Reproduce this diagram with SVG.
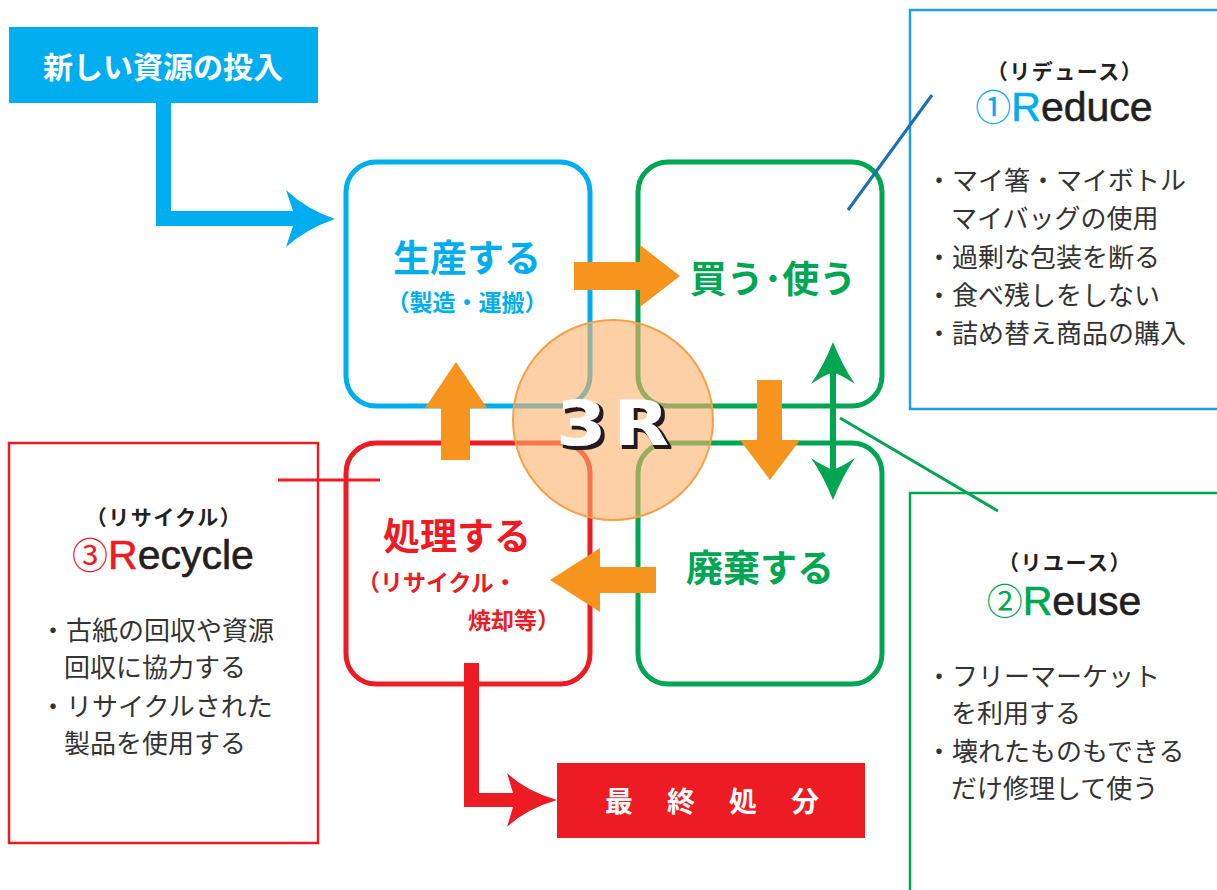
<svg xmlns="http://www.w3.org/2000/svg" width="1217" height="890" viewBox="0 0 1217 890">
<style>
.jp{font-family:"Noto Sans CJK JP","Noto Sans",sans-serif}
.node{fill:none;stroke-width:5}
.big{font-size:37px;font-weight:bold;text-anchor:middle}
.sub{font-size:23px;font-weight:bold}
.item{font-size:26px;fill:#333}
.kana{font-size:21px;font-weight:bold;fill:#231f20;text-anchor:middle;letter-spacing:1.5px}
.title{font-size:41px;font-family:"Liberation Sans",Arial,sans-serif;text-anchor:middle;fill:#231f20;stroke:#231f20;stroke-width:0.6}
.orange{fill:#f7941d}
</style>
<defs>
<filter id="shadow" x="-20%" y="-20%" width="140%" height="140%">
<feMorphology in="SourceAlpha" operator="dilate" radius="0.8" result="d"/>
<feOffset in="d" dx="2.5" dy="2.5" result="o"/>
<feFlood flood-color="#231f20"/>
<feComposite in2="o" operator="in" result="s"/>
<feMerge><feMergeNode in="s"/><feMergeNode in="SourceGraphic"/></feMerge>
</filter>
</defs>
<rect width="1217" height="890" fill="#fff"/>

<g id="info-reduce">
<rect x="910" y="10" width="320" height="399" fill="none" stroke="#1ea0e0" stroke-width="2.5"/>
<text class="jp kana" x="1065" y="79">（リデュース）</text>
<text class="title" x="1064" y="121"><tspan class="jp" fill="#00aeef" stroke="none" font-size="36">①</tspan><tspan fill="#00aeef" stroke="#00aeef">R</tspan>educe</text>
<text class="jp item" x="926" y="190">・マイ箸・マイボトル</text>
<text class="jp item" x="951" y="228">マイバッグの使用</text>
<text class="jp item" x="926" y="267">・過剰な包装を断る</text>
<text class="jp item" x="926" y="305">・食べ残しをしない</text>
<text class="jp item" x="926" y="343">・詰め替え商品の購入</text>
</g>

<g id="info-reuse">
<rect x="910" y="493" width="320" height="420" fill="none" stroke="#00a651" stroke-width="2.5"/>
<text class="jp kana" x="1065" y="570">（リユース）</text>
<text class="title" x="1064" y="615"><tspan class="jp" fill="#00a651" stroke="none" font-size="36">②</tspan><tspan fill="#00a651" stroke="#00a651">R</tspan>euse</text>
<text class="jp item" x="926" y="686">・フリーマーケット</text>
<text class="jp item" x="951" y="723">を利用する</text>
<text class="jp item" x="926" y="761">・壊れたものもできる</text>
<text class="jp item" x="951" y="798">だけ修理して使う</text>
</g>

<g id="info-recycle">
<rect x="9" y="443" width="309" height="400" fill="none" stroke="#ed1c24" stroke-width="2.5"/>
<text class="jp kana" x="164" y="525">（リサイクル）</text>
<text class="title" x="163" y="569"><tspan class="jp" fill="#ed1c24" stroke="none" font-size="36">③</tspan><tspan fill="#ed1c24" stroke="#ed1c24">R</tspan>ecycle</text>
<text class="jp item" x="40" y="640">・古紙の回収や資源</text>
<text class="jp item" x="64" y="677">回収に協力する</text>
<text class="jp item" x="40" y="716">・リサイクルされた</text>
<text class="jp item" x="64" y="753">製品を使用する</text>
</g>

<g id="node-input">
<rect x="9" y="27" width="309" height="76" fill="#00aeef"/>
<text class="jp" x="163" y="78" font-size="30" font-weight="bold" fill="#fff" text-anchor="middle">新しい資源の投入</text>
</g>

<g id="node-final">
<rect x="557" y="763" width="308" height="75" fill="#ed1c24"/>
<text class="jp" x="605" y="812" font-size="28" font-weight="bold" fill="#fff" letter-spacing="34">最終処分</text>
</g>

<g id="node-produce">
<rect class="node" x="346" y="162" width="244" height="244" rx="30" stroke="#00aeef"/>
<text class="jp big" x="467" y="272" fill="#00aeef">生産する</text>
<text class="jp sub" x="467" y="311" fill="#00aeef" text-anchor="middle">（製造・運搬）</text>
</g>

<g id="node-use">
<rect class="node" x="638" y="162" width="244" height="244" rx="30" stroke="#00a651"/>
<text class="jp big" x="773" y="293" fill="#00a651">買う･使う</text>
</g>

<g id="node-process">
<rect class="node" x="346" y="443" width="244" height="241" rx="30" stroke="#ed1c24"/>
<text class="jp big" x="457" y="550" fill="#ed1c24">処理する</text>
<text class="jp sub" x="357" y="591" fill="#ed1c24" font-size="24">（リサイクル・</text>
<text class="jp sub" x="560" y="629" fill="#ed1c24" text-anchor="end">焼却等）</text>
</g>

<g id="node-discard">
<rect class="node" x="638" y="443" width="244" height="241" rx="30" stroke="#00a651"/>
<text class="jp big" x="760" y="582" fill="#00a651">廃棄する</text>
</g>

<g id="center-3r">
<circle cx="613" cy="420" r="100" fill="#fbb06a" fill-opacity="0.6" stroke="#f7a045" stroke-width="2"/>
<text x="0" y="0" transform="translate(616,445) scale(1.15,1)" font-family="'DejaVu Sans',sans-serif" font-weight="bold" font-size="63" text-anchor="middle" letter-spacing="6" fill="#fff" filter="url(#shadow)">3R</text>
</g>

<g id="connectors">
<path d="M156,103 V226 H293 L286,247 Q306,229 335,219 Q306,209 286,190 L293,211 H171 V103 Z" fill="#00aeef"/>
<path d="M464,663 V807 H513 L507,827 Q526,809 557,800 Q526,791 507,773 L513,793 H479 V663 Z" fill="#ed1c24"/>
<polygon class="orange" points="574,262 640,262 640,245 680,276 640,307 640,290 574,290"/>
<polygon class="orange" points="757,380 782,380 782,440 800,440 770,480 740,440 757,440"/>
<polygon class="orange" points="656,567 600,567 600,548 550,580 600,612 600,593 656,593"/>
<polygon class="orange" points="441,460 441,408 425,408 456,362 487,408 470,408 470,460"/>
<path d="M830,372 V470 H836 V372 Z" fill="#00a651"/>
<path d="M833,342 Q842,365 855,384 Q843,376 833,372 Q823,376 811,384 Q824,365 833,342 Z" fill="#00a651"/>
<path d="M833,500 Q842,477 855,458 Q843,466 833,470 Q823,466 811,458 Q824,477 833,500 Z" fill="#00a651"/>
<line x1="848" y1="210" x2="932" y2="95" stroke="#1a6fb5" stroke-width="3"/>
<line x1="840" y1="418" x2="998" y2="511" stroke="#00a651" stroke-width="3"/>
<line x1="278" y1="480" x2="380" y2="480" stroke="#ed1c24" stroke-width="3"/>
</g>
</svg>
